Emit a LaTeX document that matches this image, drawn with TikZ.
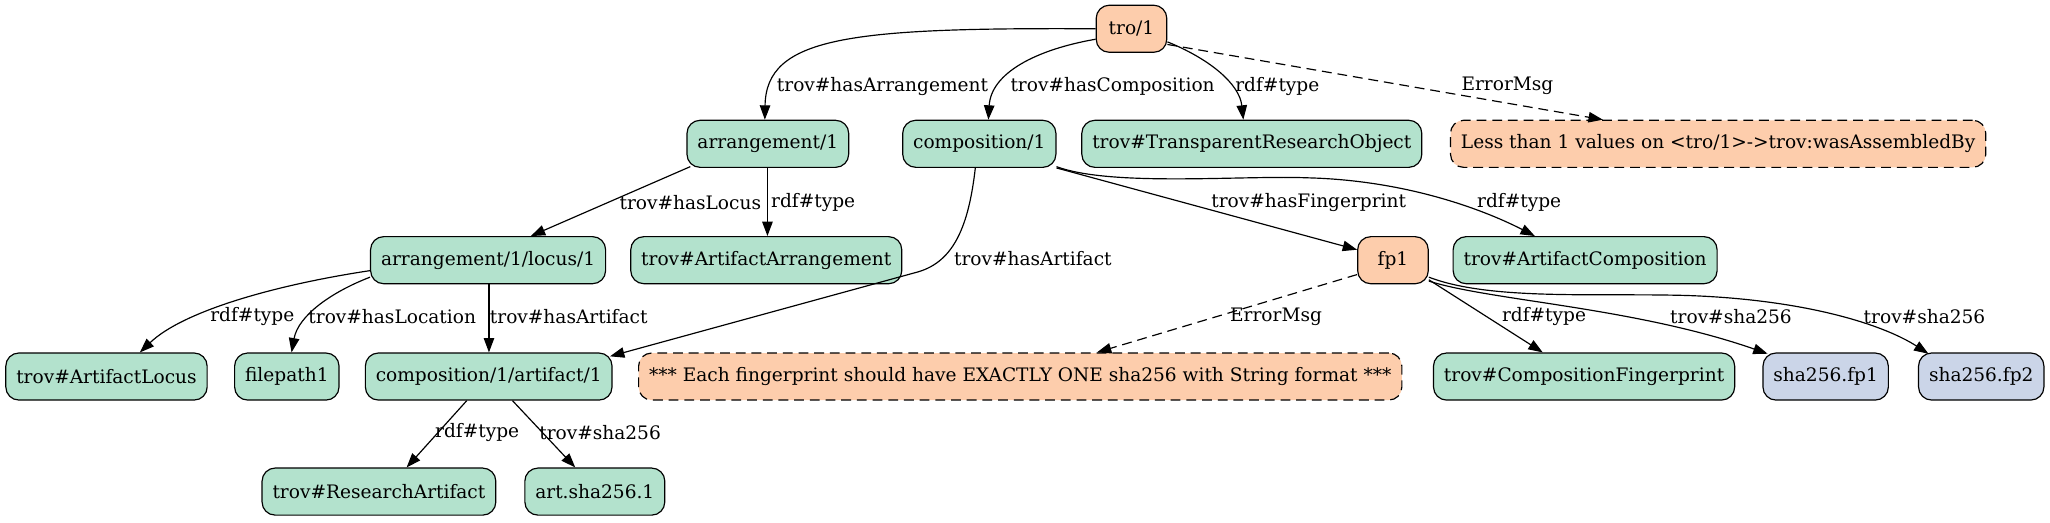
\documentclass[tikz,border=0pt]{standalone}
\usepackage{fontspec}
\setmainfont{DejaVu Serif}
\usetikzlibrary{arrows.meta}
\definecolor{pgreen}{HTML}{B3E2CD}
\definecolor{porange}{HTML}{FDCDAC}
\definecolor{pblue}{HTML}{CBD5E8}
\tikzset{
  box/.style={draw=black, line width=0.9pt, rounded corners=10pt, minimum height=36pt, minimum width=54pt,
    inner xsep=8pt, inner ysep=0pt, anchor=west, font=\fontsize{14.2}{16}\selectfont},
  gbox/.style={box, fill=pgreen},
  obox/.style={box, fill=porange},
  bbox/.style={box, fill=pblue},
  ebox/.style={box, fill=porange, dash pattern=on 7.5pt off 4.5pt},
  lab/.style={inner sep=0pt, font=\fontsize{14.2}{16}\selectfont},
  edge/.style={draw, line width=0.9pt, -{Triangle[length=11pt,width=8pt]}},
  dedge/.style={edge, dash pattern=on 7.5pt off 4.5pt},
}
\begin{document}
\begin{tikzpicture}[x=1pt,y=-1pt]
\useasboundingbox (0,0) rectangle (1568,400);
% nodes (placed by their left edge)
\node[obox] (tro) at (838,22) {tro/1};
\node[gbox] (arr) at (525,110) {arrangement/1};
\node[gbox] (comp) at (690,110) {composition/1};
\node[gbox] (trotype) at (827,110) {trov\#TransparentResearchObject};
\node[ebox] (err1) at (1109,110) {Less than 1 values on <tro/1>->trov:wasAssembledBy};
\node[gbox] (loc) at (283,199) {arrangement/1/locus/1};
\node[gbox] (arrtype) at (482,199) {trov\#ArtifactArrangement};
\node[obox] (fp) at (1038,199) {fp1};
\node[gbox] (comptype) at (1111,199) {trov\#ArtifactComposition};
\node[gbox] (loctype) at (4,288) {trov\#ArtifactLocus};
\node[gbox] (fpath) at (179,288) {filepath1};
\node[gbox] (art) at (279,288) {composition/1/artifact/1};
\node[ebox] (err2) at (488,288) {*** Each fingerprint should have EXACTLY ONE sha256 with String format ***};
\node[gbox] (fptype) at (1096,288) {trov\#CompositionFingerprint};
\node[bbox] (sha1) at (1348,288) {sha256.fp1};
\node[bbox] (sha2) at (1467,288) {sha256.fp2};
\node[gbox] (arttype) at (200,376) {trov\#ResearchArtifact};
\node[gbox] (artsha) at (401,376) {art.sha256.1};
% edges
\path[edge] (tro.west) .. controls (650,21) and (586,28) .. ([xshift=60pt]arr.north west);
\path[edge] ([yshift=-8pt]tro.west) .. controls (792,38) and (758,56) .. ([xshift=66pt]comp.north west);
\path[edge] ([yshift=-10pt]tro.east) .. controls (925,45) and (948,64) .. ([xshift=124pt]trotype.north west);
\path[dedge] ([yshift=-12pt]tro.east) -- ([xshift=117pt]err1.north west);
\path[edge] ([xshift=3pt,yshift=1pt]arr.south west) -- ([xshift=123pt]loc.north west);
\path[edge] ([xshift=62pt]arr.south west) -- ([xshift=105pt]arrtype.north west);
\path[edge] ([xshift=56pt]comp.south west) .. controls (741,172) and (730,200) .. (702,208) -- ([xshift=-2pt,yshift=-3pt]art.north east);
\path[edge] (comp.south east) -- ([yshift=8pt]fp.west);
\path[edge] ([yshift=1pt]comp.south east) .. controls (850,143) and (950,134) .. (1000,136) .. controls (1080,138) and (1140,163) .. ([xshift=63pt]comptype.north west);
\path[edge] ([yshift=-8pt]loc.west) .. controls (210,218) and (140,238) .. ([xshift=103pt]loctype.north west);
\path[edge] ([yshift=-13pt]loc.west) .. controls (252,224) and (228,242) .. ([xshift=44pt]fpath.north west);
\path[edge] ([xshift=91pt]loc.south west) -- ([xshift=95pt]art.north west);
\path[dedge] ([yshift=-11pt]fp.west) -- ([xshift=351pt]err2.north west);
\path[edge] ([yshift=-15pt]fp.east) -- ([xshift=84pt]fptype.north west);
\path[edge] ([yshift=-16pt]fp.east) .. controls (1140,230) and (1250,235) .. ([xshift=4pt,yshift=-1pt]sha1.north west);
\path[edge] ([yshift=-13pt]fp.east) .. controls (1140,230) and (1220,224) .. (1290,226) .. controls (1380,229) and (1440,248) .. ([xshift=8pt,yshift=-1pt]sha2.north west);
\path[edge] ([xshift=78pt]art.south west) -- ([xshift=111pt]arttype.north west);
\path[edge] ([xshift=113pt]art.south west) -- ([xshift=39pt]artsha.north west);
% labels
\node[lab] (l1) at (675,66) {trov\#hasArrangement};
\node[lab] (l2) at (851,66) {trov\#hasComposition};
\node[lab] (l3) at (977,66) {rdf\#type};
\node[lab] (l4) at (1153,66) {ErrorMsg};
\node[lab] (l5) at (528,155) {trov\#hasLocus};
\node[lab] (l6) at (622,155) {rdf\#type};
\node[lab] (l7) at (790,198) {trov\#hasArtifact};
\node[lab] (l8) at (1001,155) {trov\#hasFingerprint};
\node[lab] (l9) at (1162,155) {rdf\#type};
\node[lab] (l10) at (193,242) {rdf\#type};
\node[lab] (l11) at (300,242) {trov\#hasLocation};
\node[lab] (l12) at (435,242) {trov\#hasArtifact};
\node[lab] (l13) at (976,242) {ErrorMsg};
\node[lab] (l14) at (1181,242) {rdf\#type};
\node[lab] (l15) at (1324,242) {trov\#sha256};
\node[lab] (l16) at (1472,242) {trov\#sha256};
\node[lab] (l17) at (365,331) {rdf\#type};
\node[lab] (l18) at (459,331) {trov\#sha256};
\end{tikzpicture}
\end{document}
